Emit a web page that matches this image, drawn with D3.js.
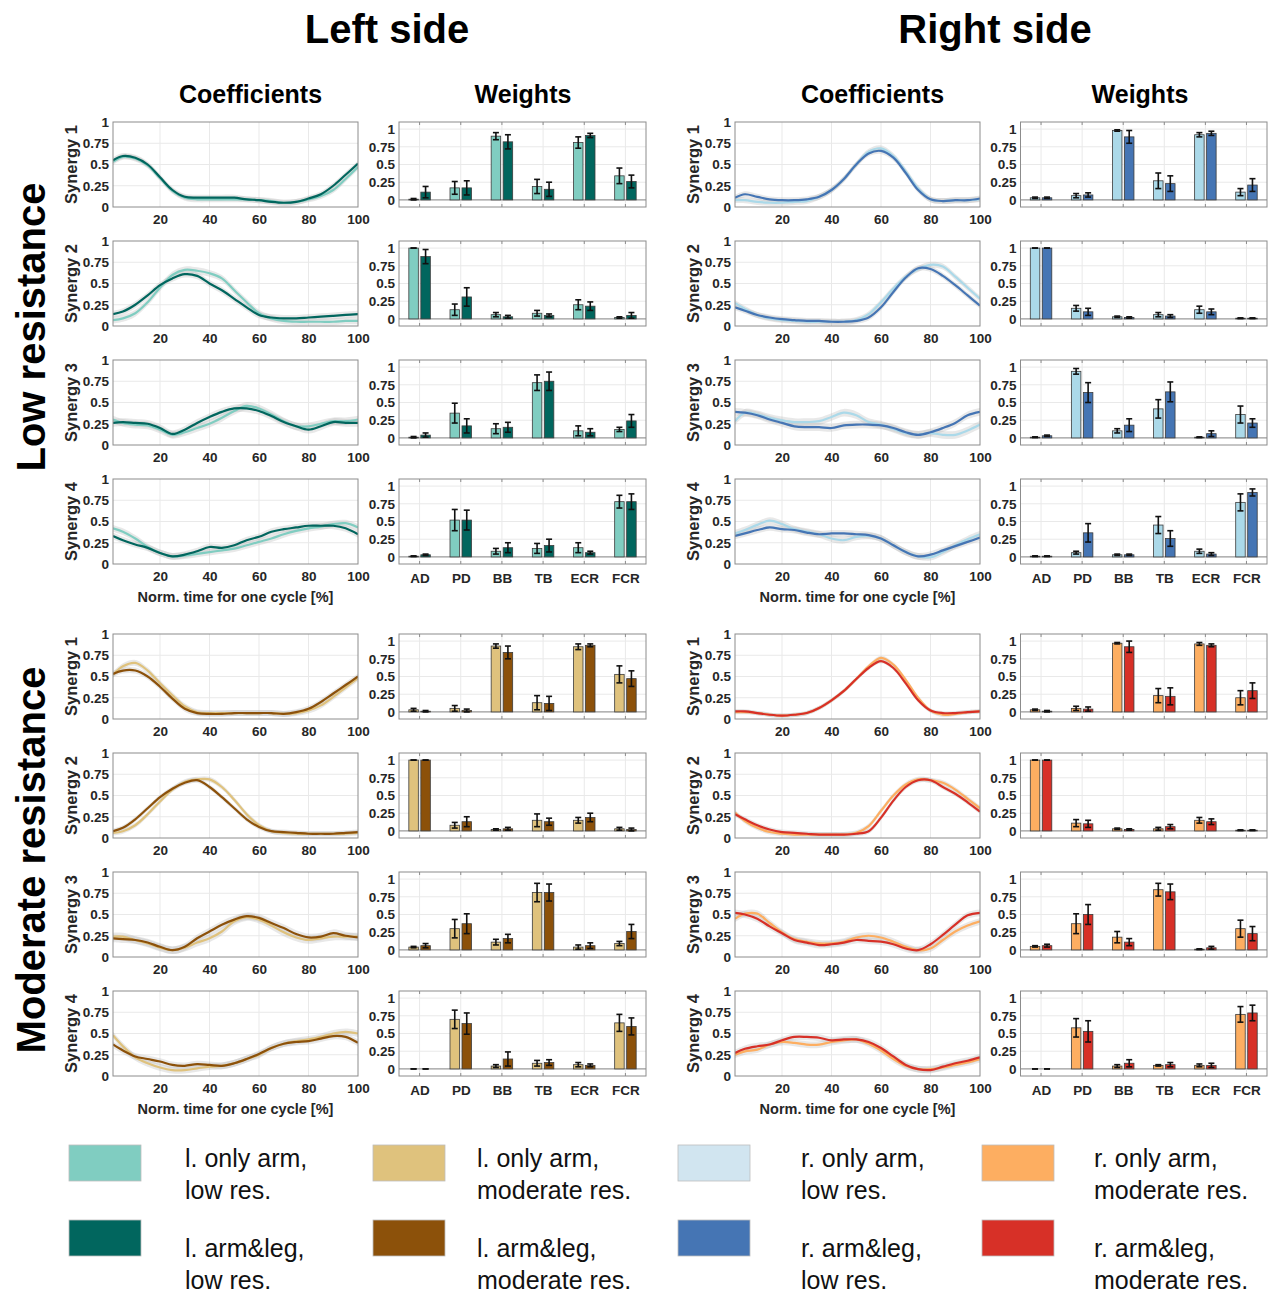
<!DOCTYPE html>
<html><head><meta charset="utf-8">
<script src="https://cdn.jsdelivr.net/npm/d3@7"></script>
<style>
body{margin:0;background:#fff}
text{font-family:"Liberation Sans",Arial,Helvetica,sans-serif}
</style>
</head><body>
<svg id="chart" width="1268" height="1294"></svg>
<script>
// ---------------- DATA ----------------
const timePoints = [1,5,10,15,20,25,30,35,40,45,50,55,60,65,70,75,80,85,90,95,100];
const timeTicks = [20,40,60,80,100];
const coefTicks = [0,0.25,0.5,0.75,1];
const coefTickLabels = ["0","0.25","0.5","0.75","1"];
const muscles = ["AD","PD","BB","TB","ECR","FCR"];
const synergyNames = ["Synergy 1","Synergy 2","Synergy 3","Synergy 4"];
const sideTitles = ["Left side","Right side"];
const panelTitles = ["Coefficients","Weights"];
const resistanceTitles = ["Low resistance","Moderate resistance"];
const xAxisLabel = "Norm. time for one cycle [%]";
const legendLabels = [
  ["l. only arm,","low res."],["l. arm&leg,","low res."],
  ["l. only arm,","moderate res."],["l. arm&leg,","moderate res."],
  ["r. only arm,","low res."],["r. arm&leg,","low res."],
  ["r. only arm,","moderate res."],["r. arm&leg,","moderate res."]
];

// Coefficients (mean curves) — left side, low resistance
const coefLeftLowArm = [
  [0.53,0.59,0.57,0.49,0.34,0.19,0.11,0.09,0.09,0.09,0.09,0.09,0.08,0.07,0.05,0.06,0.09,0.13,0.20,0.33,0.47],
  [0.07,0.09,0.15,0.28,0.45,0.60,0.66,0.65,0.62,0.56,0.42,0.28,0.15,0.09,0.06,0.05,0.05,0.05,0.05,0.06,0.06],
  [0.30,0.26,0.24,0.23,0.18,0.12,0.15,0.20,0.25,0.32,0.40,0.46,0.43,0.36,0.28,0.22,0.22,0.25,0.28,0.28,0.30],
  [0.42,0.38,0.30,0.20,0.13,0.09,0.10,0.12,0.14,0.16,0.18,0.22,0.26,0.30,0.35,0.39,0.42,0.44,0.47,0.48,0.43]
];
const coefLeftLowArmLeg = [
  [0.55,0.60,0.58,0.50,0.35,0.20,0.12,0.11,0.11,0.11,0.11,0.09,0.08,0.06,0.05,0.06,0.10,0.15,0.25,0.38,0.51],
  [0.14,0.17,0.25,0.36,0.48,0.56,0.61,0.59,0.50,0.42,0.32,0.22,0.13,0.10,0.09,0.09,0.10,0.11,0.12,0.13,0.14],
  [0.26,0.27,0.26,0.25,0.20,0.13,0.18,0.26,0.33,0.39,0.43,0.43,0.40,0.34,0.27,0.22,0.18,0.22,0.27,0.26,0.26],
  [0.33,0.28,0.23,0.19,0.13,0.09,0.11,0.15,0.20,0.19,0.22,0.28,0.32,0.38,0.41,0.43,0.45,0.45,0.45,0.42,0.35]
];
// left side, moderate resistance
const coefLeftModArm = [
  [0.52,0.62,0.66,0.57,0.42,0.28,0.15,0.08,0.07,0.07,0.07,0.07,0.07,0.07,0.06,0.07,0.10,0.16,0.26,0.37,0.48],
  [0.06,0.08,0.15,0.28,0.43,0.57,0.66,0.69,0.69,0.60,0.45,0.28,0.15,0.08,0.06,0.05,0.05,0.05,0.05,0.05,0.06],
  [0.24,0.24,0.20,0.16,0.11,0.08,0.11,0.17,0.22,0.30,0.42,0.47,0.44,0.37,0.29,0.23,0.20,0.22,0.24,0.24,0.24],
  [0.48,0.35,0.22,0.15,0.10,0.07,0.07,0.09,0.11,0.12,0.15,0.20,0.25,0.33,0.38,0.41,0.43,0.46,0.50,0.52,0.50]
];
const coefLeftModArmLeg = [
  [0.53,0.57,0.57,0.50,0.38,0.24,0.12,0.07,0.06,0.06,0.07,0.07,0.07,0.07,0.06,0.08,0.12,0.20,0.30,0.40,0.50],
  [0.08,0.12,0.22,0.35,0.48,0.58,0.65,0.68,0.60,0.48,0.35,0.22,0.13,0.08,0.07,0.06,0.05,0.05,0.05,0.06,0.07],
  [0.22,0.21,0.20,0.17,0.12,0.08,0.12,0.22,0.30,0.38,0.44,0.48,0.46,0.40,0.34,0.27,0.23,0.24,0.28,0.25,0.23],
  [0.37,0.30,0.23,0.20,0.17,0.13,0.12,0.14,0.13,0.12,0.15,0.20,0.26,0.33,0.38,0.40,0.41,0.44,0.47,0.46,0.39]
];
// right side, low resistance
const coefRightLowArm = [
  [0.08,0.08,0.06,0.05,0.05,0.06,0.07,0.12,0.20,0.33,0.50,0.65,0.69,0.60,0.42,0.22,0.09,0.07,0.08,0.08,0.09],
  [0.27,0.20,0.13,0.09,0.07,0.06,0.05,0.05,0.05,0.05,0.07,0.14,0.28,0.44,0.58,0.67,0.72,0.70,0.58,0.45,0.32],
  [0.28,0.38,0.36,0.32,0.29,0.27,0.27,0.28,0.33,0.38,0.35,0.27,0.24,0.19,0.14,0.12,0.14,0.12,0.12,0.17,0.24],
  [0.36,0.40,0.46,0.51,0.47,0.41,0.38,0.35,0.30,0.28,0.32,0.33,0.30,0.22,0.14,0.09,0.08,0.14,0.22,0.29,0.35]
];
const coefRightLowArmLeg = [
  [0.11,0.15,0.12,0.09,0.08,0.08,0.09,0.12,0.20,0.33,0.50,0.63,0.66,0.58,0.40,0.20,0.09,0.07,0.08,0.08,0.10],
  [0.22,0.18,0.13,0.10,0.08,0.07,0.06,0.06,0.05,0.05,0.06,0.10,0.22,0.40,0.57,0.68,0.67,0.59,0.48,0.36,0.24],
  [0.39,0.38,0.35,0.30,0.26,0.22,0.21,0.21,0.20,0.23,0.24,0.24,0.23,0.20,0.15,0.12,0.15,0.20,0.26,0.35,0.39],
  [0.33,0.36,0.40,0.43,0.41,0.40,0.37,0.35,0.36,0.36,0.35,0.34,0.30,0.22,0.14,0.09,0.11,0.16,0.21,0.26,0.31]
];
// right side, moderate resistance
const coefRightModArm = [
  [0.08,0.08,0.07,0.05,0.04,0.05,0.07,0.13,0.22,0.33,0.47,0.62,0.72,0.64,0.46,0.25,0.10,0.05,0.06,0.08,0.09],
  [0.30,0.20,0.12,0.07,0.05,0.04,0.04,0.04,0.04,0.04,0.06,0.14,0.32,0.50,0.63,0.69,0.68,0.65,0.57,0.46,0.35],
  [0.45,0.51,0.51,0.40,0.29,0.21,0.18,0.16,0.16,0.18,0.23,0.25,0.23,0.18,0.12,0.08,0.10,0.20,0.30,0.37,0.42],
  [0.25,0.29,0.31,0.37,0.40,0.39,0.37,0.37,0.40,0.42,0.43,0.38,0.30,0.20,0.12,0.08,0.08,0.10,0.13,0.16,0.20]
];
const coefRightModArmLeg = [
  [0.09,0.09,0.07,0.05,0.04,0.05,0.07,0.13,0.22,0.33,0.47,0.60,0.68,0.60,0.42,0.22,0.10,0.07,0.07,0.08,0.09],
  [0.28,0.22,0.15,0.10,0.07,0.06,0.05,0.04,0.04,0.04,0.05,0.08,0.24,0.44,0.60,0.68,0.68,0.60,0.52,0.42,0.31],
  [0.52,0.50,0.45,0.36,0.28,0.20,0.17,0.14,0.15,0.17,0.20,0.19,0.18,0.15,0.10,0.08,0.15,0.26,0.38,0.49,0.52],
  [0.27,0.32,0.35,0.37,0.42,0.46,0.46,0.45,0.42,0.43,0.43,0.40,0.33,0.23,0.13,0.08,0.07,0.11,0.15,0.18,0.22]
];
// spread (std) of the coefficient curves, per synergy
const spreadLeftLow = [0.035,0.04,0.045,0.04];
const spreadLeftMod = [0.035,0.03,0.045,0.04];
const spreadRightLow = [0.035,0.035,0.045,0.04];
const spreadRightMod = [0.025,0.03,0.04,0.04];

// Weights: means and error (std) per muscle
const wLeftLowArm = [[0.01,0.17,0.90,0.19,0.81,0.34],[1.00,0.13,0.06,0.08,0.20,0.02],[0.01,0.35,0.13,0.78,0.10,0.12],[0.01,0.52,0.08,0.12,0.13,0.78]];
const eLeftLowArm = [[0.01,0.09,0.05,0.10,0.08,0.11],[0.00,0.08,0.03,0.04,0.07,0.01],[0.01,0.14,0.07,0.11,0.07,0.03],[0.005,0.15,0.04,0.07,0.07,0.09]];
const wLeftLowArmLeg = [[0.11,0.17,0.82,0.15,0.91,0.26],[0.88,0.31,0.03,0.05,0.18,0.05],[0.04,0.17,0.15,0.80,0.08,0.24],[0.03,0.52,0.13,0.16,0.06,0.78]];
const eLeftLowArmLeg = [[0.08,0.10,0.10,0.10,0.03,0.09],[0.10,0.13,0.02,0.02,0.06,0.04],[0.03,0.10,0.07,0.13,0.05,0.09],[0.01,0.14,0.07,0.09,0.02,0.11]];
const wLeftModArm = [[0.03,0.05,0.93,0.13,0.92,0.53],[1.00,0.08,0.02,0.15,0.15,0.03],[0.04,0.30,0.11,0.81,0.04,0.09],[0.00,0.70,0.04,0.08,0.06,0.65]];
const eLeftModArm = [[0.02,0.04,0.03,0.10,0.04,0.12],[0.00,0.04,0.01,0.09,0.04,0.02],[0.01,0.13,0.04,0.13,0.03,0.03],[0.00,0.13,0.02,0.04,0.03,0.12]];
const wLeftModArmLeg = [[0.01,0.02,0.84,0.12,0.94,0.47],[1.00,0.13,0.03,0.13,0.19,0.02],[0.06,0.37,0.16,0.81,0.06,0.26],[0.00,0.64,0.14,0.09,0.05,0.60]];
const eLeftModArmLeg = [[0.01,0.02,0.09,0.10,0.02,0.11],[0.00,0.07,0.02,0.05,0.06,0.02],[0.03,0.14,0.06,0.12,0.04,0.10],[0.00,0.15,0.10,0.04,0.02,0.12]];
const wRightLowArm = [[0.03,0.06,0.98,0.27,0.92,0.11],[1.00,0.15,0.03,0.06,0.13,0.01],[0.01,0.94,0.10,0.41,0.01,0.33],[0.01,0.06,0.03,0.45,0.08,0.77]];
const eRightLowArm = [[0.01,0.03,0.01,0.11,0.03,0.05],[0.00,0.04,0.01,0.03,0.05,0.005],[0.005,0.04,0.03,0.13,0.005,0.12],[0.005,0.02,0.01,0.12,0.03,0.12]];
const wRightLowArmLeg = [[0.03,0.07,0.89,0.23,0.94,0.21],[1.00,0.10,0.02,0.04,0.10,0.01],[0.03,0.64,0.18,0.65,0.06,0.21],[0.01,0.34,0.03,0.26,0.04,0.91]];
const eRightLowArmLeg = [[0.01,0.03,0.09,0.11,0.03,0.09],[0.00,0.05,0.01,0.02,0.04,0.005],[0.01,0.14,0.09,0.14,0.04,0.06],[0.005,0.13,0.01,0.11,0.02,0.05]];
const wRightModArm = [[0.03,0.05,0.97,0.23,0.96,0.20],[1.00,0.11,0.03,0.03,0.15,0.01],[0.05,0.37,0.18,0.85,0.01,0.30],[0.00,0.58,0.04,0.05,0.05,0.77]];
const eRightModArm = [[0.01,0.03,0.01,0.10,0.02,0.10],[0.00,0.05,0.01,0.02,0.04,0.005],[0.01,0.14,0.08,0.09,0.005,0.12],[0.00,0.13,0.02,0.01,0.02,0.11]];
const wRightModArmLeg = [[0.01,0.04,0.92,0.22,0.94,0.30],[1.00,0.10,0.02,0.06,0.13,0.01],[0.06,0.50,0.11,0.82,0.03,0.23],[0.00,0.53,0.08,0.06,0.05,0.79]];
const eRightModArmLeg = [[0.01,0.03,0.08,0.12,0.02,0.11],[0.00,0.05,0.01,0.03,0.04,0.005],[0.02,0.14,0.05,0.11,0.02,0.10],[0.00,0.15,0.05,0.03,0.03,0.11]];

// ---------------- STYLE ----------------
const lineColors = {
  leftLow:["#80cdc1","#01665e"], leftMod:["#dfc27d","#8c510a"],
  rightLow:["#abd9e9","#4575b4"], rightMod:["#fdae61","#d73027"]
};
const legendColors = ["#80cdc1","#01665e","#dfc27d","#8c510a","#d1e5f0","#4575b4","#fdae61","#d73027"];
const FONT_TICK = 13.5, AX = "#8c8c8c", TXT = "#262626", GRID = "#e9e9e9";

// ---------------- LAYOUT ----------------
const svg = d3.select("#chart");
const sides = [
  {coef:[113,358], w:[399,646], title:387, wTitle:523},
  {coef:[735,980], w:[1020.5,1267], title:995, wTitle:1140}
];
const rowTops = [[122,241,360,479],[634,753,872,991]];
const PH = 85;

const conditions = [
  {side:0,res:0,arm:coefLeftLowArm,leg:coefLeftLowArmLeg,spread:spreadLeftLow,wA:wLeftLowArm,eA:eLeftLowArm,wL:wLeftLowArmLeg,eL:eLeftLowArmLeg,col:lineColors.leftLow},
  {side:0,res:1,arm:coefLeftModArm,leg:coefLeftModArmLeg,spread:spreadLeftMod,wA:wLeftModArm,eA:eLeftModArm,wL:wLeftModArmLeg,eL:eLeftModArmLeg,col:lineColors.leftMod},
  {side:1,res:0,arm:coefRightLowArm,leg:coefRightLowArmLeg,spread:spreadRightLow,wA:wRightLowArm,eA:eRightLowArm,wL:wRightLowArmLeg,eL:eRightLowArmLeg,col:lineColors.rightLow},
  {side:1,res:1,arm:coefRightModArm,leg:coefRightModArmLeg,spread:spreadRightMod,wA:wRightModArm,eA:eRightModArm,wL:wRightModArmLeg,eL:eRightModArmLeg,col:lineColors.rightMod}
];

let clipId = 0;

function coefPanel(cond, s) {
  const [x0,x1] = sides[cond.side].coef;
  const top = rowTops[cond.res][s];
  const x = d3.scaleLinear().domain([1,100]).range([x0,x1]);
  const y = d3.scaleLinear().domain([0,1]).range([top+PH, top]);
  const g = svg.append("g");
  const id = "clip"+(clipId++);
  g.append("clipPath").attr("id",id).append("rect").attr("x",x0).attr("y",top).attr("width",x1-x0).attr("height",PH);
  g.selectAll(".gx").data(timeTicks.slice(0,4)).enter().append("line")
    .attr("x1",d=>x(d)).attr("x2",d=>x(d)).attr("y1",top).attr("y2",top+PH).attr("stroke",GRID);
  g.selectAll(".gy").data(coefTicks.slice(1,4)).enter().append("line")
    .attr("x1",x0).attr("x2",x1).attr("y1",d=>y(d)).attr("y2",d=>y(d)).attr("stroke",GRID);
  const curve = d3.curveCatmullRom.alpha(0.5);
  const sd = cond.spread[s];
  const plot = g.append("g").attr("clip-path",`url(#${id})`);
  [cond.arm[s], cond.leg[s]].forEach(vals=>{
    const pts = timePoints.map((t,i)=>[t,vals[i]]);
    plot.append("path").datum(pts)
      .attr("d", d3.area().x(d=>x(d[0])).y0(d=>y(d[1]-sd)).y1(d=>y(d[1]+sd)).curve(curve))
      .attr("fill","#b4b4b4").attr("fill-opacity",0.3);
  });
  [cond.arm[s], cond.leg[s]].forEach((vals,k)=>{
    const pts = timePoints.map((t,i)=>[t,vals[i]]);
    plot.append("path").datum(pts)
      .attr("d", d3.line().x(d=>x(d[0])).y(d=>y(d[1])).curve(curve))
      .attr("fill","none").attr("stroke",cond.col[k]).attr("stroke-width",2.2);
  });
  const ax = g.append("g").attr("transform",`translate(0,${top+PH})`)
    .call(d3.axisBottom(x).tickValues(timeTicks).tickSize(0).tickPadding(7).tickFormat(d3.format("d")));
  ax.select(".domain").remove();
  ax.selectAll("text").attr("font-size",FONT_TICK).attr("font-weight","bold").attr("fill",TXT);
  const ay = g.append("g").attr("transform",`translate(${x0},0)`)
    .call(d3.axisLeft(y).tickValues(coefTicks).tickSize(0).tickPadding(4).tickFormat((d,i)=>coefTickLabels[i]));
  ay.select(".domain").remove();
  ay.selectAll("text").attr("font-size",FONT_TICK).attr("font-weight","bold").attr("fill",TXT);
  g.append("rect").attr("x",x0).attr("y",top).attr("width",x1-x0).attr("height",PH)
    .attr("fill","none").attr("stroke",AX).attr("stroke-width",1);
  g.append("text").attr("transform",`translate(${x0-36},${top+PH/2}) rotate(-90)`)
    .attr("text-anchor","middle").attr("font-size",16.5).attr("font-weight","bold").attr("fill",TXT)
    .text(synergyNames[s]);
  if (s===3) {
    g.append("text").attr("x",(x0+x1)/2).attr("y",top+PH+38).attr("text-anchor","middle")
      .attr("font-size",14.5).attr("font-weight","bold").attr("fill",TXT).text(xAxisLabel);
  }
}

function weightPanel(cond, s) {
  const [x0,x1] = sides[cond.side].w;
  const top = rowTops[cond.res][s];
  const x = d3.scaleLinear().domain([0.5,6.5]).range([x0,x1]);
  const y = d3.scaleLinear().domain([-0.1,1.1]).range([top+PH, top]);
  const g = svg.append("g");
  const cats = muscles.map((m,i)=>i+1);
  g.selectAll(".gx").data(cats).enter().append("line")
    .attr("x1",d=>x(d)).attr("x2",d=>x(d)).attr("y1",top).attr("y2",top+PH).attr("stroke",GRID);
  g.selectAll(".gy").data(coefTicks.slice(1)).enter().append("line")
    .attr("x1",x0).attr("x2",x1).attr("y1",d=>y(d)).attr("y2",d=>y(d)).attr("stroke",GRID);
  g.append("line").attr("x1",x0).attr("x2",x1).attr("y1",y(0)).attr("y2",y(0)).attr("stroke","#9a9a9a").attr("stroke-width",1.2);
  const bw = 9.5, off = 6;
  const series = [[cond.wA[s],cond.eA[s],-off],[cond.wL[s],cond.eL[s],off]];
  series.forEach(([vals,errs,o],k)=>{
    vals.forEach((v,i)=>{
      const cx = x(i+1)+o;
      g.append("rect").attr("x",cx-bw/2).attr("width",bw)
        .attr("y",y(v)).attr("height",Math.max(0,y(0)-y(v)))
        .attr("fill",cond.col[k]).attr("stroke","#3c3c3c").attr("stroke-width",0.8);
    });
  });
  series.forEach(([vals,errs,o])=>{
    vals.forEach((v,i)=>{
      const cx = x(i+1)+o, e = errs[i];
      const ya = y(v+e), yb = y(v-e);
      g.append("line").attr("x1",cx).attr("x2",cx).attr("y1",ya).attr("y2",yb).attr("stroke","#111").attr("stroke-width",1.6);
      [ya,yb].forEach(yy=>g.append("line").attr("x1",cx-3).attr("x2",cx+3).attr("y1",yy).attr("y2",yy).attr("stroke","#111").attr("stroke-width",1.6));
    });
  });
  cats.forEach(c=>{
    g.append("line").attr("x1",x(c)).attr("x2",x(c)).attr("y1",top+PH).attr("y2",top+PH-3).attr("stroke",AX);
    g.append("line").attr("x1",x(c)).attr("x2",x(c)).attr("y1",top).attr("y2",top+3).attr("stroke",AX);
  });
  const ay = g.append("g").attr("transform",`translate(${x0},0)`)
    .call(d3.axisLeft(y).tickValues(coefTicks).tickSize(0).tickPadding(4).tickFormat((d,i)=>coefTickLabels[i]));
  ay.select(".domain").remove();
  ay.selectAll("text").attr("font-size",FONT_TICK).attr("font-weight","bold").attr("fill",TXT);
  if (s===3) {
    const ax = g.append("g").attr("transform",`translate(0,${top+PH})`)
      .call(d3.axisBottom(x).tickValues(cats).tickSize(0).tickPadding(9).tickFormat((d,i)=>muscles[i]));
    ax.select(".domain").remove();
    ax.selectAll("text").attr("font-size",FONT_TICK).attr("font-weight","bold").attr("fill",TXT);
  }
  g.append("rect").attr("x",x0).attr("y",top).attr("width",x1-x0).attr("height",PH)
    .attr("fill","none").attr("stroke",AX).attr("stroke-width",1);
}

conditions.forEach(c=>{ for (let s=0;s<4;s++){ coefPanel(c,s); weightPanel(c,s); } });

// ---------------- TITLES ----------------
sides.forEach((sd,i)=>{
  svg.append("text").attr("x",sd.title).attr("y",43).attr("text-anchor","middle")
    .attr("font-size",40).attr("font-weight","bold").attr("fill","#000").text(sideTitles[i]);
  svg.append("text").attr("x",(sd.coef[0]+sd.coef[1])/2+15).attr("y",103).attr("text-anchor","middle")
    .attr("font-size",25).attr("font-weight","bold").attr("fill","#000").text(panelTitles[0]);
  svg.append("text").attr("x",sd.wTitle).attr("y",103).attr("text-anchor","middle")
    .attr("font-size",25).attr("font-weight","bold").attr("fill","#000").text(panelTitles[1]);
});
[327,860].forEach((cy,i)=>{
  svg.append("text").attr("transform",`translate(45,${cy}) rotate(-90)`).attr("text-anchor","middle")
    .attr("font-size",40).attr("font-weight","bold").attr("fill","#000").text(resistanceTitles[i]);
});

// ---------------- LEGEND ----------------
const legX = [69,373,678,982], legTextX = [185,477,801,1094], legY = [1145,1220], legTextY = [1167,1257];
legendLabels.forEach((lab,i)=>{
  const col = Math.floor(i/2), row = i%2;
  svg.append("rect").attr("x",legX[col]).attr("y",legY[row]).attr("width",72).attr("height",36)
    .attr("fill",legendColors[i]).attr("stroke","#bdbdbd").attr("stroke-width",0.8);
  const t = svg.append("text").attr("x",legTextX[col]).attr("y",legTextY[row]).attr("font-size",25).attr("fill","#111");
  t.append("tspan").attr("x",legTextX[col]).text(lab[0]);
  t.append("tspan").attr("x",legTextX[col]).attr("dy",32).text(lab[1]);
});
</script>
</body></html>
